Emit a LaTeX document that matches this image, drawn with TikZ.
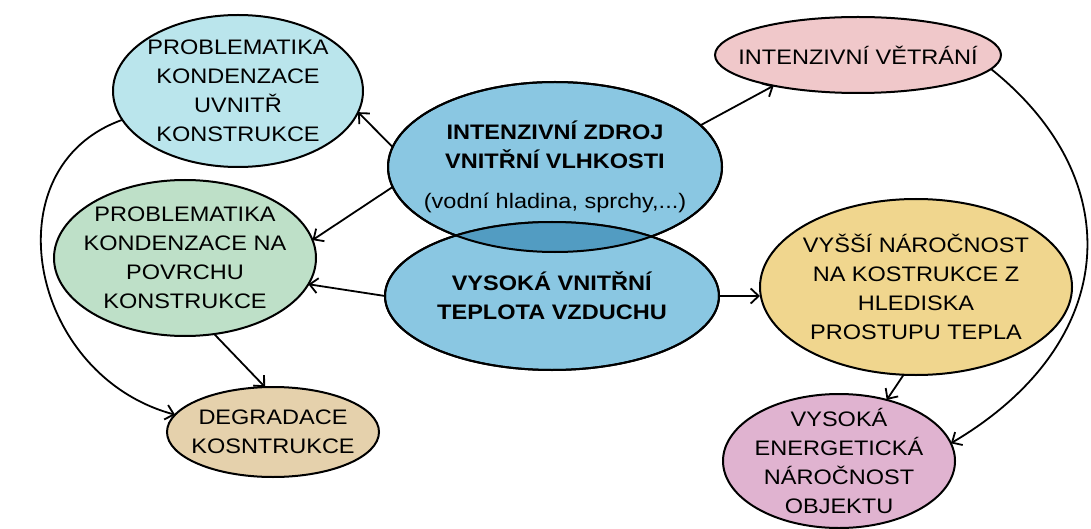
\documentclass[tikz,border=0pt]{standalone}
\usepackage{fontspec}
\setmainfont{Liberation Sans}[FakeStretch=1.12]
\usetikzlibrary{shapes.geometric,arrows.meta}

\definecolor{uvnitrfill}{RGB}{186,229,236}
\definecolor{zdrojfill}{RGB}{138,199,226}
\definecolor{prunikfill}{RGB}{82,156,194}
\definecolor{vetranifill}{RGB}{240,200,202}
\definecolor{povrchfill}{RGB}{190,224,200}
\definecolor{narocfill}{RGB}{240,214,142}
\definecolor{degrfill}{RGB}{229,209,172}
\definecolor{energfill}{RGB}{224,179,208}

\begin{document}
\begin{tikzpicture}[x=1pt,y=1pt,
    >={Straight Barb[length=8pt,width=15pt]},
    bubble/.style={ellipse,draw,line width=2pt,inner xsep=-20pt,inner ysep=-12pt,
        outer sep=0pt,align=center,font=\fontsize{21}{29}\selectfont},
    link/.style={->,line width=1.8pt}]
    \useasboundingbox (0,0) rectangle (1091,-529);

    % Ellipses
    \node[bubble,fill=uvnitrfill,minimum width=250pt,minimum height=152pt] (uvnitr) at (238,-91)
        {PROBLEMATIKA\\KONDENZACE\\UVNITŘ\\KONSTRUKCE};
    \node[bubble,fill=zdrojfill,minimum width=334pt,minimum height=170pt] (zdroj) at (555,-167)
        {\textbf{INTENZIVNÍ ZDROJ}\\\textbf{VNITŘNÍ VLHKOSTI}\\[11pt](vodní hladina, sprchy,...)};
    \node[bubble,fill=zdrojfill,minimum width=334pt,minimum height=148pt] (teplota) at (552,-296)
        {\textbf{VYSOKÁ VNITŘNÍ}\\\textbf{TEPLOTA VZDUCHU}};
    \node[bubble,fill=vetranifill,minimum width=286pt,minimum height=76pt] (vetrani) at (858,-55)
        {INTENZIVNÍ VĚTRÁNÍ};
    \node[bubble,fill=povrchfill,minimum width=262pt,minimum height=156pt] (povrch) at (185,-258)
        {PROBLEMATIKA\\KONDENZACE NA\\POVRCHU\\KONSTRUKCE};
    \node[bubble,fill=narocfill,minimum width=312pt,minimum height=176pt] (naroc) at (916,-287)
        {VYŠŠÍ NÁROČNOST\\NA KOSTRUKCE Z\\HLEDISKA\\PROSTUPU TEPLA};
    \node[bubble,fill=degrfill,minimum width=212pt,minimum height=90pt] (degr) at (273,-432)
        {DEGRADACE\\KOSNTRUKCE};
    \node[bubble,fill=energfill,minimum width=232pt,minimum height=134pt] (energ) at (839,-461)
        {VYSOKÁ\\ENERGETICKÁ\\NÁROČNOST\\OBJEKTU};

    % Overlap of the two blue ellipses
    \begin{scope}
        \clip (zdroj.center) ellipse [x radius=167pt,y radius=85pt];
        \fill[prunikfill] (teplota.center) ellipse [x radius=167pt,y radius=74pt];
    \end{scope}
    \draw[line width=2pt] (zdroj.center) ellipse [x radius=167pt,y radius=85pt];
    \draw[line width=2pt] (teplota.center) ellipse [x radius=167pt,y radius=74pt];

    % Arrows
    \draw[link] (zdroj.173) -- (uvnitr.-10);
    \draw[link] (zdroj.187) -- (povrch.8);
    \draw[link] (zdroj.16) -- (vetrani.200);
    \draw[link] (teplota.west) -- (povrch.-12);
    \draw[link] (teplota.east) -- (naroc.west |- teplota.east);
    \draw[link] (povrch.291) -- (degr.100);
    \draw[link] (naroc.262) -- (energ.52);
    \draw[link] (uvnitr.194) .. controls +(-133,-47) and +(-147,40) .. (degr.170);
    \draw[link] (vetrani.-6) .. controls +(140,-112) and +(168,99) .. (energ.9);
\end{tikzpicture}
\end{document}
